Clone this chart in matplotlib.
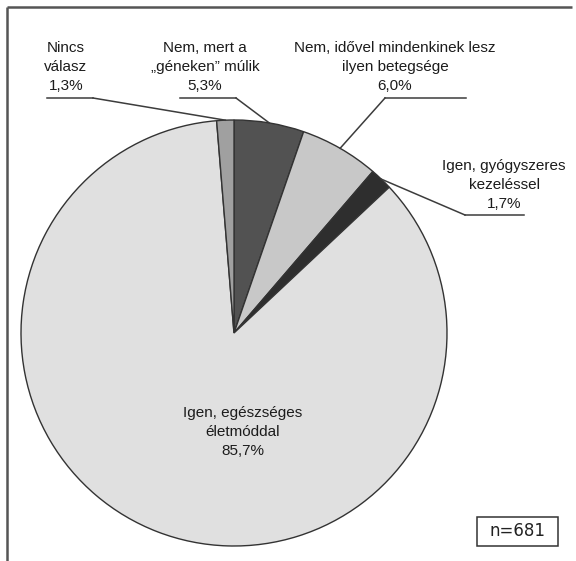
import numpy as np
import matplotlib
matplotlib.use('Agg')
from matplotlib import pyplot as plt
from matplotlib.patches import Rectangle

plt.rcParams['font.family'] = ['Liberation Sans', 'DejaVu Sans']

labels = ['Nem, mert a\n\u201egéneken\u201d múlik',
          'Nem, idővel mindenkinek lesz\nilyen betegsége',
          'Igen, gyógyszeres\nkezeléssel',
          'Igen, egészséges\néletmóddal',
          'Nincs\nválasz']
shares = [5.3, 6.0, 1.7, 85.7, 1.3]
colors = ['#525252', '#c8c8c8', '#2e2e2e', '#e0e0e0', '#a0a0a0']
n_total = 681

W, H = 576, 561
fig = plt.figure(figsize=(W / 100, H / 100), dpi=100)
ax = fig.add_axes([0, 0, 1, 1])
ax.axis('off')

cx, cy, r = 234, H - 333, 213
wedges, _ = ax.pie(shares, colors=colors, startangle=90, counterclock=False,
                   center=(cx, cy), radius=r,
                   wedgeprops=dict(edgecolor='#333333', linewidth=1.0))
ax.set_xlim(0, W)
ax.set_ylim(0, H)
ax.set_aspect('equal')


def fmt(v):
    return '{:.1f}%'.format(v).replace('.', ',')


# label text position, underline span (x0, x1, y) and elbow x for each slice
txt_pos = [(205, 67), (395, 67), (504, 185), (243, 432), (66, 67)]
under = [(180, 236, 98), (385, 466, 98), (465, 524, 215), None, (47, 93, 98)]
elbow = [236, 385, 465, None, 93]

for i, w in enumerate(wedges):
    x, y = txt_pos[i]
    ax.text(x, H - y, labels[i] + '\n' + fmt(shares[i]), ha='center', va='center',
            fontsize=11, color='#1c1c1c', linespacing=1.45)
    if under[i] is None:
        continue
    x0, x1, yu = under[i]
    mid = np.deg2rad((w.theta1 + w.theta2) / 2)
    px, py = cx + r * np.cos(mid), cy + r * np.sin(mid)
    ax.plot([x0, x1], [H - yu, H - yu], color='#3c3c3c', lw=1.1)
    ax.plot([elbow[i], px], [H - yu, py], color='#3c3c3c', lw=1.1)

# n box
ax.add_patch(Rectangle((477, H - 546), 81, 29, fill=False, edgecolor='#333333', lw=1.1))
ax.text(517.5, H - 531.5, 'n={}'.format(n_total), ha='center', va='center',
        fontsize=12, color='#222222', family=['DejaVu Sans'])

# frame (top and left)
ax.plot([6.5, 572], [H - 7, H - 7], color='#555555', lw=1.8, solid_capstyle='butt')
ax.plot([6.5, 6.5], [H - 7, 0], color='#555555', lw=1.8, solid_capstyle='butt')

fig.savefig('out.png', dpi=100)
